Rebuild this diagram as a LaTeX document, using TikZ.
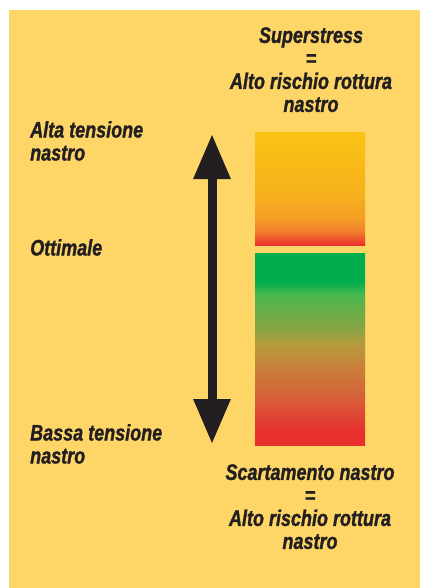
\documentclass[tikz,border=0pt]{standalone}
\usepackage{fontspec}
\usepackage{xcolor}
\usepackage{tikz}
\usetikzlibrary{
  arrows.meta,
  positioning
}
\newfontfamily\labelfont[FakeStretch=0.8,FakeBold=1.2]{Liberation Sans}
\definecolor{NstPaper}{HTML}{FED668}
\definecolor{NstInk}{HTML}{231F20}
\definecolor{NstYellow}{HTML}{FBC314}
\definecolor{NstAmber}{HTML}{F6B11C}
\definecolor{NstOrange}{HTML}{F59F25}
\definecolor{NstDeepOrange}{HTML}{F07F2C}
\definecolor{NstRed}{HTML}{EC2E2E}
\definecolor{NstGreen}{HTML}{00AE4D}
\definecolor{NstLeaf}{HTML}{4DB74F}
\definecolor{NstOlive}{HTML}{8AA343}
\definecolor{NstOchre}{HTML}{B89A3C}
\definecolor{NstBrown}{HTML}{C97F3A}
\definecolor{NstRust}{HTML}{D6603A}
\definecolor{NstScarlet}{HTML}{E8302F}
\pgfdeclareverticalshading{highshade}{100bp}{%
  color(0bp)=(NstRed); color(25bp)=(NstRed); color(31bp)=(NstDeepOrange);
  color(37.5bp)=(NstOrange); color(47.5bp)=(NstAmber); color(75bp)=(NstYellow);
  color(100bp)=(NstYellow)}
\pgfdeclareverticalshading{lowshade}{100bp}{%
  color(0bp)=(NstScarlet); color(25bp)=(NstScarlet); color(28.5bp)=(NstScarlet);
  color(37.5bp)=(NstRust); color(45bp)=(NstBrown); color(51bp)=(NstOchre);
  color(55bp)=(NstOlive); color(64bp)=(NstLeaf); color(67.5bp)=(NstGreen);
  color(75bp)=(NstGreen); color(100bp)=(NstGreen)}
\tikzset{
  every node/.style = {
    font=\labelfont\bfseries\itshape\fontsize{22.5pt}{23pt}\selectfont,
    text=NstInk,
    inner sep=0pt
  },
  side label/.style = {anchor=north west, align=left},
  risk label/.style = {anchor=north, align=center},
  stress bar/.style = {
    minimum width=110pt,
    draw=none
  },
  tension arrow/.style = {
    {Triangle[length=45pt,width=35pt]}-{Triangle[length=45pt,width=35pt]},
    draw=NstInk,
    fill=NstInk,
    line width=9pt
  }
}

\begin{document}
\begin{tikzpicture}[x=1pt,y=-1pt]
  \useasboundingbox (0,0) rectangle (420,588);
  \fill[NstPaper] (9,10) rectangle (420,588);

  \node[risk label] (over) at (311,27) {Superstress\\=\\Alto rischio rottura\\nastro};
  \node[risk label] (slip) at (310,464) {Scartamento nastro\\=\\Alto rischio rottura\\nastro};

  \node[side label] (hightxt) at (30,121) {Alta tensione\\nastro};
  \node[side label] (midtxt) at (30,239) {Ottimale};
  \node[side label] (lowtxt) at (30,424) {Bassa tensione\\nastro};

  \node[stress bar, shading=highshade, minimum height=112pt] (highbar) at (310,189) {};
  \node[stress bar, shading=lowshade, minimum height=192pt] (lowbar) at (310,349) {};

  \coordinate (up) at (212,134);
  \coordinate (down) at (212,444);
  \draw[tension arrow] (down) -- (up);
\end{tikzpicture}
\end{document}
